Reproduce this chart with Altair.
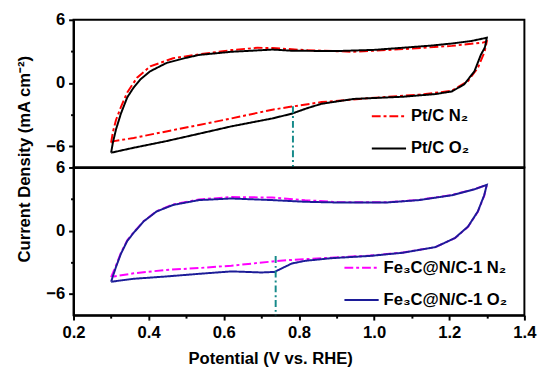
import altair as alt
import pandas as pd

FONT = "Liberation Sans"

# ---------------- data ----------------
# Pt/C in O2 (black solid) : closed CV loop, anodic branch then cathodic branch
ptc_o2_E = [0.300, 0.305, 0.313, 0.326, 0.343, 0.360, 0.378, 0.404, 0.447, 0.500, 0.534, 0.620, 0.700, 0.730,
            0.780, 0.850, 0.903, 1.000, 1.076, 1.150, 1.206, 1.260, 1.300,
            1.295, 1.284, 1.267, 1.240, 1.207, 1.163, 1.077, 0.946, 0.860, 0.820, 0.781, 0.729, 0.620, 0.534,
            0.447, 0.360, 0.300]
ptc_o2_J = [-6.60, -5.60, -4.40, -2.90, -1.35, -0.42, 0.35, 1.12, 1.90, 2.40, 2.67, 2.97, 3.12, 3.18,
            3.07, 3.05, 3.04, 3.15, 3.35, 3.55, 3.75, 4.00, 4.30,
            3.40, 2.67, 1.12, -0.11, -0.79, -1.04, -1.29, -1.50, -1.96, -2.40, -2.90, -3.35, -4.10, -4.80,
            -5.50, -6.13, -6.60]

# Pt/C in N2 (red dash-dot)
ptc_n2_E = [0.300, 0.305, 0.313, 0.326, 0.343, 0.369, 0.404, 0.465, 0.534, 0.620, 0.690, 0.730, 0.816, 0.946,
            1.077, 1.207, 1.289, 1.300,
            1.294, 1.276, 1.250, 1.207, 1.120, 0.990, 0.860, 0.773, 0.729, 0.620, 0.534, 0.447, 0.360, 0.308,
            0.300]
ptc_n2_J = [-5.65, -4.60, -3.50, -2.27, -0.88, 0.51, 1.58, 2.36, 2.73, 3.13, 3.35, 3.32, 3.13, 2.97,
            3.22, 3.53, 3.84, 3.95,
            2.97, 1.43, 0.20, -0.73, -1.10, -1.41, -1.80, -2.27, -2.52, -3.35, -3.97, -4.58, -5.20, -5.50,
            -5.65]

# Fe3C@N/C-1 in O2 (navy solid)
fe_o2_E = [0.300, 0.313, 0.326, 0.343, 0.360, 0.387, 0.421, 0.465, 0.534, 0.620, 0.729, 0.816, 0.903, 1.033,
           1.120, 1.207, 1.267, 1.300,
           1.293, 1.276, 1.250, 1.215, 1.163, 1.077, 0.990, 0.885, 0.816, 0.781, 0.755, 0.735, 0.700, 0.620,
           0.534, 0.447, 0.360, 0.300]
fe_o2_J = [-4.83, -3.43, -2.19, -0.96, -0.19, 0.90, 1.83, 2.45, 2.91, 3.06, 2.91, 2.75, 2.68, 2.68,
           2.91, 3.37, 3.93, 4.36,
           3.37, 1.83, 0.40, -0.69, -1.55, -2.08, -2.38, -2.60, -2.85, -3.10, -3.55, -3.90, -3.95, -3.85,
           -4.08, -4.33, -4.55, -4.83]

# Fe3C@N/C-1 in N2 (magenta dash-dot)
fe_n2_E = [0.300, 0.313, 0.326, 0.343, 0.360, 0.387, 0.421, 0.465, 0.534, 0.620, 0.729, 0.816, 0.903, 1.033,
           1.120, 1.207, 1.267, 1.300,
           1.293, 1.276, 1.250, 1.215, 1.163, 1.077, 0.990, 0.885, 0.860, 0.773, 0.729, 0.620, 0.534, 0.447,
           0.360, 0.308, 0.300]
fe_n2_J = [-4.40, -3.30, -2.10, -0.90, -0.15, 0.92, 1.85, 2.50, 2.97, 3.20, 3.15, 2.90, 2.72, 2.70,
           2.93, 3.40, 3.95, 4.36,
           3.30, 1.80, 0.38, -0.70, -1.55, -2.05, -2.35, -2.55, -2.60, -2.78, -2.91, -3.31, -3.53, -3.71,
           -4.03, -4.33, -4.40]

top_labels = ["Pt/C N\u2082", "Pt/C O\u2082"]
bottom_labels = ["Fe\u2083C@N/C-1 N\u2082", "Fe\u2083C@N/C-1 O\u2082"]

# onset-potential markers (teal dash-dot verticals)
top_marker_E = [0.784]
top_marker_J = [-2.2]
bottom_marker_E = [0.738]
bottom_marker_J = [-2.4]

x_major = [0.2, 0.4, 0.6, 0.8, 1.0, 1.2, 1.4]
x_minor = [0.3, 0.5, 0.7, 0.9, 1.1, 1.3]
y_major = [-6, 0, 6]
y_minor = [-3, 3]
y_min, y_max = -8, 6


def build_df(series):
    rows = []
    for name, xs, ys in series:
        for i, (e, j) in enumerate(zip(xs, ys)):
            rows.append({"series": name, "E": e, "J": j, "i": i})
    return pd.DataFrame(rows)


df_top = build_df([(top_labels[0], ptc_n2_E, ptc_n2_J), (top_labels[1], ptc_o2_E, ptc_o2_J)])
df_bot = build_df([(bottom_labels[0], fe_n2_E, fe_n2_J), (bottom_labels[1], fe_o2_E, fe_o2_J)])

x_scale = alt.Scale(domain=[0.2, 1.4], nice=False, zero=False)
y_scale = alt.Scale(domain=[y_min, y_max], nice=False, zero=False)

W, H = 461, 151


def panel(df, labels, colors, marker_E, marker_J, bottom, legend_x, legend_y):
    legend = alt.Legend(orient="none", legendX=legend_x, legendY=legend_y, title=None,
                        symbolType="stroke", symbolSize=1225, symbolStrokeWidth=2,
                        labelFont=FONT, labelFontSize=17, labelFontWeight="bold", labelColor="black",
                        labelOffset=4, rowPadding=6, padding=0, labelLimit=300)
    if bottom:
        x_axis = alt.Axis(values=x_major, format=".1f", title="Potential (V vs. RHE)",
                          titleX=201, titleFont=FONT, titleFontSize=17, titleFontWeight="bold",
                          titleColor="black", titlePadding=10, labelPadding=5, orient="bottom")
        y_axis = alt.Axis(values=y_major, format="d", title=None, orient="left")
    else:
        x_axis = alt.Axis(values=x_major, labels=False, ticks=False, title=None, orient="bottom")
        y_axis = alt.Axis(values=y_major, format="d", title="Current Density (mA cm\u207b\u00b2)",
                          titleX=-41, titleY=142, titleFont=FONT, titleFontSize=17,
                          titleFontWeight="bold", titleColor="black", orient="left")

    lines = alt.Chart(df).mark_line(strokeWidth=2, clip=True).encode(
        x=alt.X("E:Q", scale=x_scale, axis=x_axis),
        y=alt.Y("J:Q", scale=y_scale, axis=y_axis),
        color=alt.Color("series:N", scale=alt.Scale(domain=labels, range=colors), legend=legend),
        strokeDash=alt.StrokeDash("series:N",
                                  scale=alt.Scale(domain=labels, range=[[9, 3, 3, 3], [1, 0]]),
                                  legend=legend),
        order="i:Q",
    )

    mdf = pd.DataFrame({"E": marker_E, "J": marker_J, "J2": [y_min] * len(marker_E)})
    marker = alt.Chart(mdf).mark_rule(color="#168a8a", strokeWidth=2, strokeDash=[7, 3, 2, 3]).encode(
        x=alt.X("E:Q", scale=x_scale, axis=None),
        y=alt.Y("J:Q", scale=y_scale, axis=None),
        y2="J2:Q")

    minor = alt.Chart(df).mark_point(opacity=0).encode(
        x=alt.X("E:Q", scale=x_scale,
                axis=alt.Axis(values=x_minor, labels=False, domain=False, title=None, orient="bottom",
                              tickSize=3 if bottom else 0, ticks=bottom)),
        y=alt.Y("J:Q", scale=y_scale,
                axis=alt.Axis(values=y_minor, labels=False, domain=False, title=None, orient="left",
                              tickSize=3)),
    )

    return alt.layer(lines, marker, minor).resolve_axis(x="independent", y="independent").properties(
        width=W, height=H)


top = panel(df_top, top_labels, ["#ff0000", "#000000"], top_marker_E, top_marker_J, False, 304, 80)
bot = panel(df_bot, bottom_labels, ["#ff00ff", "#1c1c98"], bottom_marker_E, bottom_marker_J, True, 276, 84)

chart = alt.vconcat(top, bot, spacing=0, bounds="flush").resolve_scale(
    color="independent", strokeDash="independent").resolve_legend(
    color="independent", strokeDash="independent").properties(
    padding={"left": 6, "top": -2, "right": 5, "bottom": 0}, background="white"
).configure_view(stroke="black", strokeWidth=2).configure_axis(
    grid=False, domainColor="black", domainWidth=2, tickColor="black", tickWidth=2, tickSize=5,
    labelFont=FONT, labelFontSize=17, labelFontWeight="bold", labelColor="black", labelPadding=4,
    labelFlush=False,
)

chart.save("out.html", embed_options={"renderer": "svg", "actions": False})
